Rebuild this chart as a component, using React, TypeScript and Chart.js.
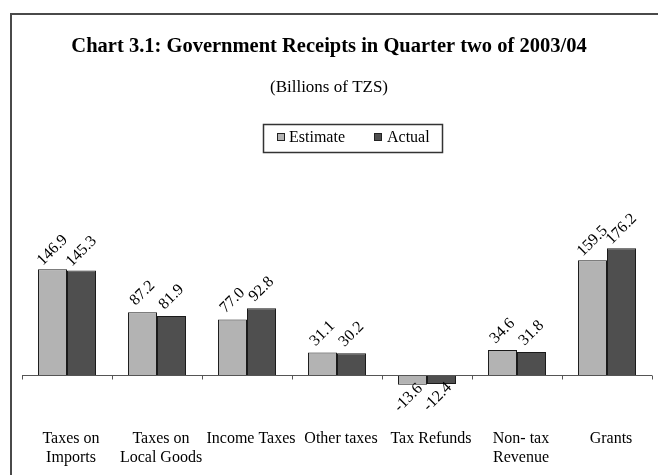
import React, { useEffect, useRef } from "react";
import { Chart, registerables } from "chart.js";

Chart.register(...registerables);

const categories: (string | string[])[] = [
  ["Taxes on", "Imports"],
  ["Taxes on", "Local Goods"],
  "Income Taxes",
  "Other taxes",
  "Tax Refunds",
  ["Non- tax", "Revenue"],
  "Grants",
];
const estimate = [146.9, 87.2, 77.0, 31.1, -13.6, 34.6, 159.5];
const actual = [145.3, 81.9, 92.8, 30.2, -12.4, 31.8, 176.2];
const seriesNames = ["Estimate", "Actual"];
const seriesColors = ["#b3b3b3", "#4f4f4f"];
const titleText = "Chart 3.1: Government Receipts in Quarter two of 2003/04";
const subtitleText = "(Billions of TZS)";
const yMin = -70;
const yMax = 250;

const SERIF = '"Liberation Serif", "Times New Roman", serif';

const decorPlugin = {
  id: "decor",
  beforeDraw(chart: any) {
    const ctx = chart.ctx as CanvasRenderingContext2D;
    ctx.save();
    ctx.fillStyle = "#ffffff";
    ctx.fillRect(0, 0, chart.width, chart.height);
    // frame
    ctx.strokeStyle = "#4a4a4a";
    ctx.lineWidth = 2;
    ctx.beginPath();
    ctx.moveTo(11, chart.height);
    ctx.lineTo(11, 14);
    ctx.lineTo(chart.width, 14);
    ctx.stroke();
    // titles
    ctx.fillStyle = "#000";
    ctx.textAlign = "center";
    ctx.textBaseline = "middle";
    ctx.font = `bold 20.5px ${SERIF}`;
    ctx.fillText(titleText, 329, 47);
    ctx.font = `17px ${SERIF}`;
    ctx.fillText(subtitleText, 329, 88);
    // legend
    ctx.strokeStyle = "#333";
    ctx.lineWidth = 1.5;
    ctx.strokeRect(263.5, 124.5, 179, 28);
    const items = [
      { sx: 277, tx: 289 },
      { sx: 374, tx: 387 },
    ];
    ctx.font = `16px ${SERIF}`;
    ctx.textAlign = "left";
    chart.data.datasets.forEach((ds: any, i: number) => {
      const it = items[i];
      ctx.fillStyle = ds.backgroundColor;
      ctx.fillRect(it.sx, 133, 8, 8);
      ctx.strokeStyle = "#222";
      ctx.lineWidth = 1;
      ctx.strokeRect(it.sx + 0.5, 133.5, 7, 7);
      ctx.fillStyle = "#000";
      ctx.fillText(ds.label, it.tx, 137.5);
    });
    ctx.restore();
  },
  afterDatasetsDraw(chart: any) {
    const ctx = chart.ctx as CanvasRenderingContext2D;
    const xs = chart.scales.x;
    const ys = chart.scales.y;
    ctx.save();
    // zero line + ticks
    const y0 = Math.round(ys.getPixelForValue(0)) + 0.5;
    ctx.strokeStyle = "#555";
    ctx.lineWidth = 1;
    ctx.beginPath();
    ctx.moveTo(xs.left, y0);
    ctx.lineTo(xs.right, y0);
    const n = chart.data.labels.length;
    const w = (xs.right - xs.left) / n;
    for (let i = 0; i <= n; i++) {
      const xb = Math.round(xs.left + i * w) + 0.5;
      ctx.moveTo(xb, y0);
      ctx.lineTo(xb, y0 + 4);
    }
    ctx.stroke();
    // data labels
    ctx.fillStyle = "#000";
    ctx.font = `16px ${SERIF}`;
    ctx.textAlign = "center";
    ctx.textBaseline = "middle";
    chart.data.datasets.forEach((ds: any, di: number) => {
      const meta = chart.getDatasetMeta(di);
      meta.data.forEach((el: any, i: number) => {
        const v = ds.data[i];
        const neg = v < 0;
        const cx = neg ? el.x - 4 : el.x;
        const cy = neg ? el.y + 13 : el.y - 19;
        ctx.save();
        ctx.translate(cx, cy);
        ctx.rotate(-Math.PI / 4);
        ctx.fillText(v.toFixed(1), 0, 0);
        ctx.restore();
      });
    });
    ctx.restore();
  },
};

export default function App() {
  const ref = useRef<HTMLCanvasElement | null>(null);
  useEffect(() => {
    if (!ref.current) return;
    const chart = new Chart(ref.current, {
      type: "bar",
      data: {
        labels: categories,
        datasets: [
          {
            label: seriesNames[0],
            data: estimate,
            backgroundColor: seriesColors[0],
            borderColor: "#1a1a1a",
            borderWidth: 1,
            categoryPercentage: 0.645,
            barPercentage: 1,
          },
          {
            label: seriesNames[1],
            data: actual,
            backgroundColor: seriesColors[1],
            borderColor: "#1a1a1a",
            borderWidth: 1,
            categoryPercentage: 0.645,
            barPercentage: 1,
          },
        ],
      },
      options: {
        animation: false,
        responsive: false,
        devicePixelRatio: 1,
        layout: { padding: { left: 22, right: 6, top: 195, bottom: 3.2 } },
        plugins: {
          legend: { display: false },
          title: { display: false },
          tooltip: { enabled: false },
        },
        scales: {
          x: {
            grid: { display: false, drawTicks: false, tickLength: 0 },
            border: { display: false },
            ticks: {
              color: "#000",
              font: { family: SERIF, size: 16 },
              padding: 4,
              labelOffset: 4,
              maxRotation: 0,
              minRotation: 0,
              autoSkip: false,
            },
          },
          y: {
            display: false,
            min: yMin,
            max: yMax,
          },
        },
      },
      plugins: [decorPlugin],
    });
    return () => chart.destroy();
  }, []);
  return (
    <div style={{ position: "absolute", left: 0, top: 0, width: 658, height: 475 }}>
      <canvas ref={ref} width={658} height={475} style={{ display: "block" }} />
    </div>
  );
}
